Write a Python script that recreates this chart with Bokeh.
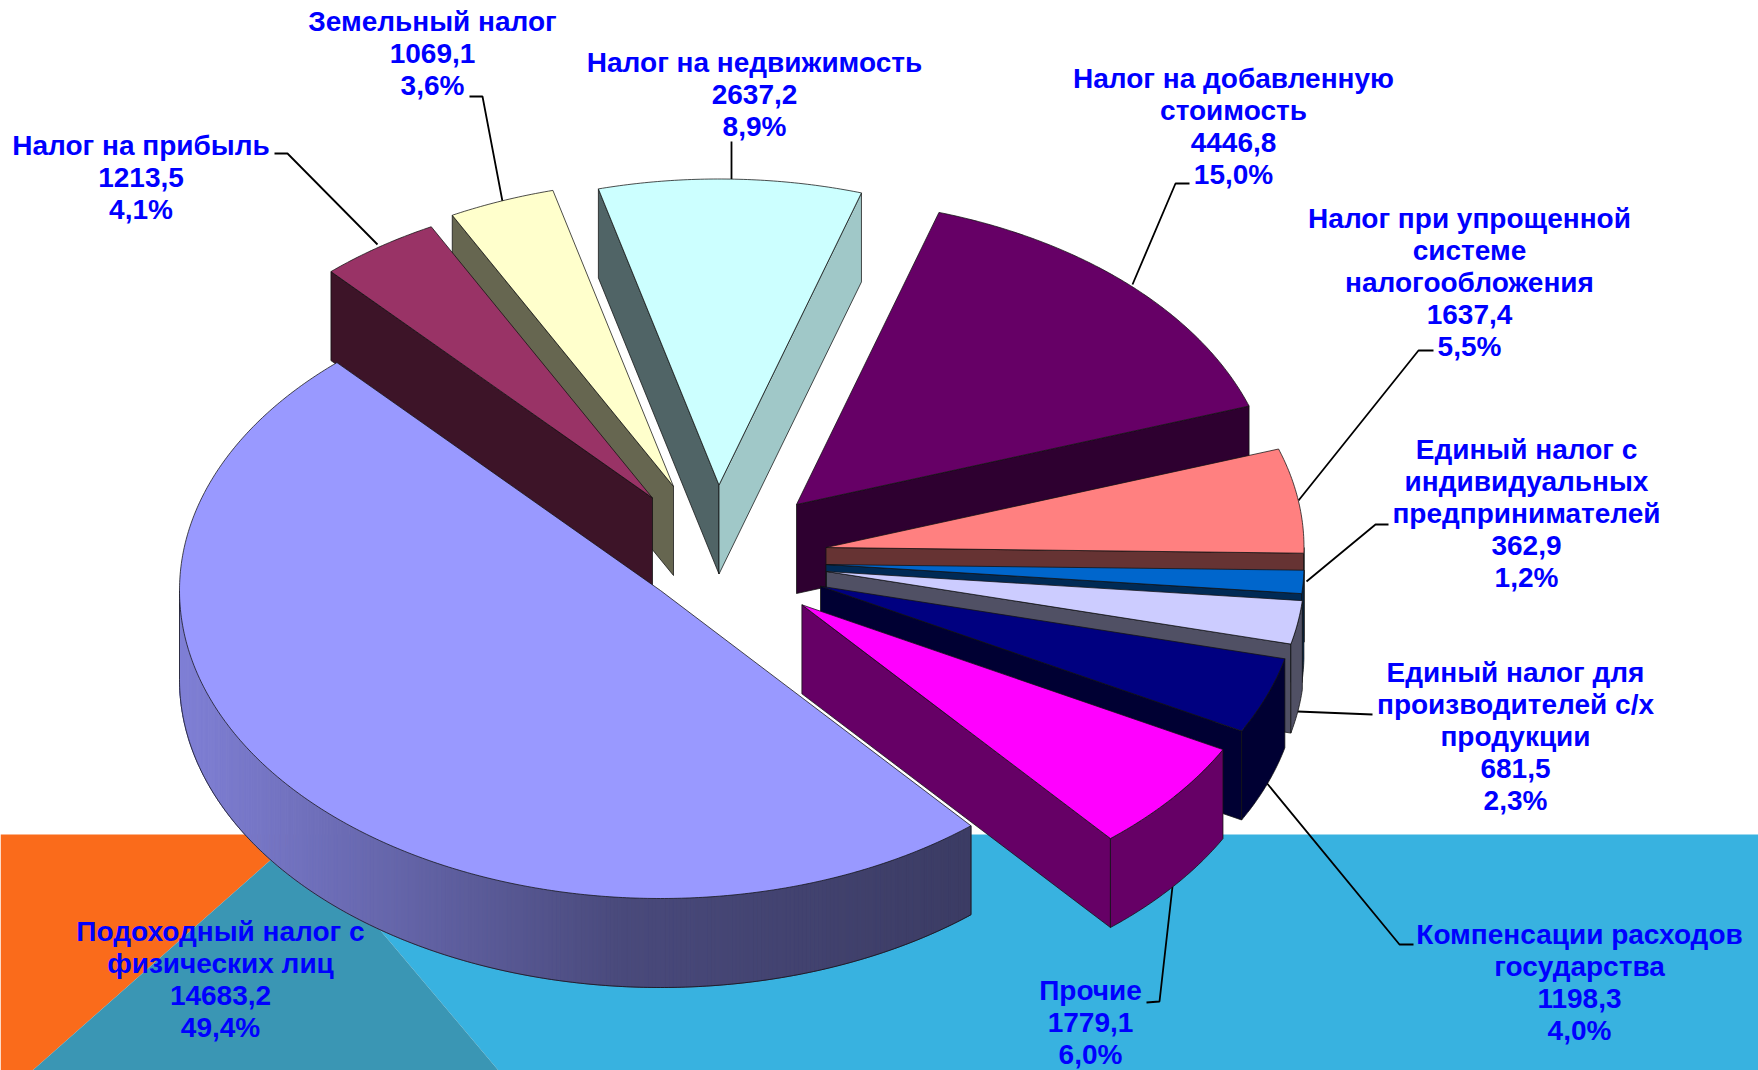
import numpy as np
from bokeh.plotting import figure
from bokeh.models import Range1d
from bokeh.core.properties import value
from bokeh.embed import file_html
from bokeh.resources import INLINE

# ---- chart data (clockwise, starting at the big slice) ----
names = [
    ["Подоходный налог с", "физических лиц"],
    ["Налог на прибыль"],
    ["Земельный налог"],
    ["Налог на недвижимость"],
    ["Налог на добавленную", "стоимость"],
    ["Налог при упрощенной", "системе", "налогообложения"],
    ["Единый налог с", "индивидуальных", "предпринимателей"],
    ["Единый налог для", "производителей с/х", "продукции"],
    ["Компенсации расходов", "государства"],
    ["Прочие"],
]
values = [14683.2, 1213.5, 1069.1, 2637.2, 4446.8, 1637.4, 362.9, 681.5, 1198.3, 1779.1]
shares = ["49,4%", "4,1%", "3,6%", "8,9%", "15,0%", "5,5%", "1,2%", "2,3%", "4,0%", "6,0%"]

top_colors = ["#9999FF", "#993366", "#FFFFCC", "#CCFFFF", "#660066",
              "#FF8080", "#0066CC", "#CCCCFF", "#000080", "#FF00FF"]
side_colors = ["#3C3C64", "#3D1428", "#666650", "#506466", "#2E0030",
               "#663333", "#002A55", "#505064", "#000033", "#660066"]

# ---- layout ----
W, H = 1758, 1070
RX, RY, DEPTH = 478.0, 306.0, 89.0
BIG_RX, BIG_RY = 481.0, 308.0
START_DEG = 139.8
apex_x = [660, 652, 673, 718.5, 796, 825.5, 825.5, 826, 820, 801.4]
apex_y = [590, 497.5, 486, 484.5, 504, 547, 564, 571, 585.7, 604.3]
draw_order = [3, 2, 1, 4, 5, 6, 7, 8, 9, 0]
label_x = [220, 140.5, 432, 754, 1233, 1469, 1526, 1515, 1579, 1090]
label_top = [930.5, 145, 21, 62, 78, 218, 449, 672, 934, 990]
LINE_STEP = 32.0
leaders = [
    ([274, 287, 377], [153, 153, 244]),
    ([469, 482, 502], [96, 96, 201]),
    ([731, 731], [141, 179]),
    ([1189, 1175, 1132], [183, 183, 284]),
    ([1433, 1418, 1298], [350, 350, 500]),
    ([1388, 1375, 1306], [524, 524, 581]),
    ([1372, 1297], [714, 711]),
    ([1413, 1399, 1265], [944, 944, 781]),
    ([1146, 1159, 1172], [1002, 1001, 886]),
]

p = figure(width=W, height=H, output_backend="svg", toolbar_location=None,
           x_range=Range1d(0, W), y_range=Range1d(H, 0),
           min_border=0, outline_line_color=None, background_fill_color="white",
           border_fill_color="white")
p.axis.visible = False
p.grid.visible = False

# ---- background shapes of the slide ----
p.patch([0, 299, 32, 0], [834, 834, 1070, 1070], fill_color="#FA6B1B", line_color=None)
p.patch([299, 1758, 1758, 498], [834, 834, 1070, 1070], fill_color="#38B2E0", line_color=None)
p.patch([299, 498, 32], [834, 1070, 1070], fill_color="#3A96B4", line_color=None)

# ---- leaders lie under the pie ----
for lx, ly in leaders:
    p.line(lx, ly, line_color="black", line_width=1.8)

# ---- slice angles come from the values ----
total = sum(values)
starts, ends = [], []
a = START_DEG
for v in values:
    s = a if a < 360.0 else a - 360.0
    starts.append(s)
    a += v / total * 360.0
    ends.append(s + v / total * 360.0)

LINE = dict(line_color="#111111", line_alpha=0.75, line_width=1)


def rim(i, cx, cy, t):
    t = np.radians(t)
    rx, ry = (BIG_RX, BIG_RY) if i == 0 else (RX, RY)
    return cx + rx * np.sin(t), cy - ry * np.cos(t)


def big_wall_color(x):
    xs = [180, 620, 970]
    r = np.interp(x, xs, [0x80, 0x4A, 0x3C])
    g = np.interp(x, xs, [0x80, 0x4A, 0x3C])
    b = np.interp(x, xs, [0xD6, 0x7C, 0x64])
    return "#%02X%02X%02X" % (int(r), int(g), int(b))


for i in draw_order:
    cx, cy = apex_x[i], apex_y[i]
    t0, t1 = starts[i], ends[i]
    tm = (t0 + t1) / 2
    mx, my = rim(i, cx, cy, tm)

    # cut faces: visible when the top of the slice lies above the edge
    for k, t in enumerate((t0, t1)):
        ex, ey = rim(i, cx, cy, t)
        if abs(ex - cx) < 1e-6:
            continue
        line_y = cy + (ey - cy) * (mx - cx) / (ex - cx)
        if my < line_y:
            col = side_colors[i]
            if i == 3 and k == 1:
                col = "#A0C8C8"
            p.patch([cx, ex, ex, cx], [cy, ey, ey + DEPTH, cy + DEPTH],
                    fill_color=col, **LINE)

    # outer wall
    w0, w1 = max(t0, 90.0), min(t1, 270.0)
    if w1 > w0:
        tt = np.linspace(w0, w1, max(int((w1 - w0) * 2), 6))
        ax, ay = rim(i, cx, cy, tt)
        if i == 0:
            n = len(tt) - 1
            xs = [[ax[j], ax[j + 1], ax[j + 1], ax[j]] for j in range(n)]
            ys = [[ay[j], ay[j + 1], ay[j + 1] + DEPTH, ay[j] + DEPTH] for j in range(n)]
            cols = [big_wall_color((ax[j] + ax[j + 1]) / 2) for j in range(n)]
            p.patches(xs, ys, fill_color=cols, line_color=cols, line_width=1)
            p.line(list(ax) + [ax[-1]], list(ay + DEPTH) + [ay[-1]], **LINE)
            p.line([ax[0], ax[0]], [ay[0], ay[0] + DEPTH], **LINE)
        else:
            p.patch(list(ax) + list(ax[::-1]), list(ay) + list((ay + DEPTH)[::-1]),
                    fill_color=side_colors[i], **LINE)

    # top surface
    tt = np.linspace(t0, t1, max(int((t1 - t0) * 2), 6))
    ax, ay = rim(i, cx, cy, tt)
    p.patch([cx] + list(ax), [cy] + list(ay), fill_color=top_colors[i], **LINE)

# ---- labels ----
lx, ly, lt = [], [], []
for i in range(len(values)):
    rows = names[i] + [f"{values[i]:.1f}".replace(".", ","), shares[i]]
    for r, row in enumerate(rows):
        lx.append(label_x[i])
        ly.append(label_top[i] + r * LINE_STEP)
        lt.append(row)
p.text(lx, ly, text=lt, text_font=value("Liberation Sans"), text_font_style="bold",
       text_font_size="28px", text_color="#0000FF", text_align="center",
       text_baseline="middle")

open("out.html", "w").write(file_html(p, INLINE))
